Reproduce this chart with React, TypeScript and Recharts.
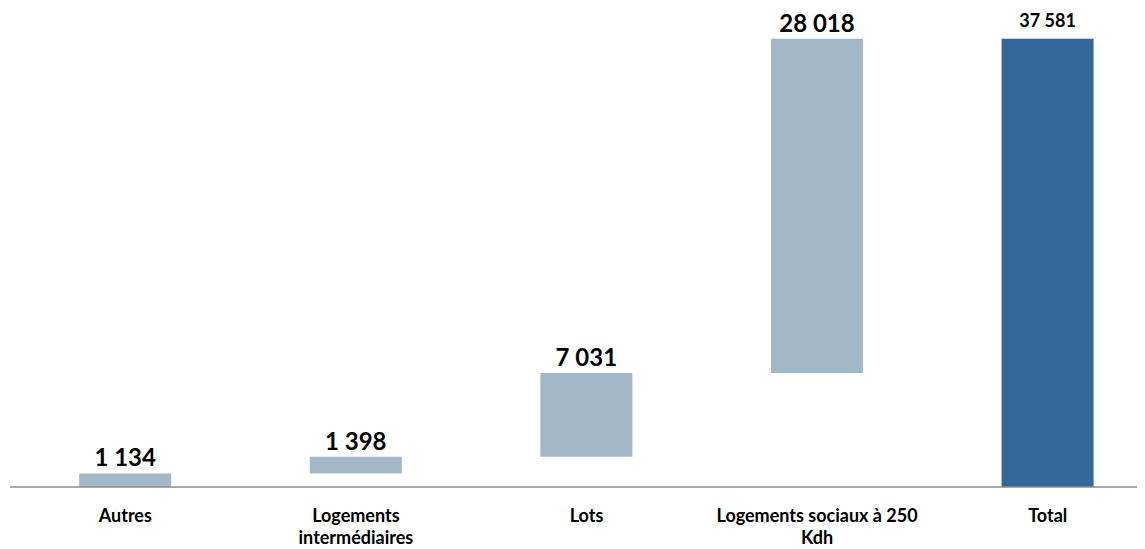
import React from "react";
import { BarChart, Bar, XAxis, YAxis, LabelList, Cell } from "recharts";

const categories = ["Autres", "Logements intermédiaires", "Lots", "Logements sociaux à 250 Kdh", "Total"];
const tickLines = [["Autres"], ["Logements", "intermédiaires"], ["Lots"], ["Logements sociaux à 250", "Kdh"], ["Total"]];
const values = [1134, 1398, 7031, 28018, 37581];
const isTotal = [false, false, false, false, true];

const LIGHT = "#A3B8C7";
const DARK = "#336699";
const FONT = "Lato, 'Open Sans', sans-serif";

const data = (() => {
  let running = 0;
  return categories.map((name, i) => {
    const base = isTotal[i] ? 0 : running;
    if (!isTotal[i]) running += values[i];
    return { name, base, value: values[i], total: isTotal[i] };
  });
})();

const fmt = (v: number) => String(v).replace(/\B(?=(\d{3})+(?!\d))/g, " ");

const CustomTick = (props: any) => {
  const { x, y, index } = props;
  const lines = tickLines[index] || [String(props.payload.value)];
  return (
    <text x={x} y={y} textAnchor="middle" fontFamily={FONT} fontWeight={700} fontSize={18} fill="#000">
      {lines.map((l: string, i: number) => (
        <tspan key={i} x={x} y={y + 27 + i * 22}>
          {l}
        </tspan>
      ))}
    </text>
  );
};

const ValueLabel = (props: any) => {
  const { x, y, width, index } = props;
  const d = data[index];
  const small = d.total;
  return (
    <text
      x={x + width / 2}
      y={y - (small ? 12 : 7)}
      textAnchor="middle"
      fontFamily={FONT}
      fontWeight={700}
      fontSize={small ? 18 : 24}
      fill="#000"
    >
      {fmt(d.value)}
    </text>
  );
};

export default function App() {
  return (
    <div style={{ width: 1137, height: 541, overflow: "hidden", background: "#fff" }}>
      <BarChart
        width={1160}
        height={541}
        data={data}
        margin={{ top: 2, right: 5, left: 2, bottom: 7 }}
        barCategoryGap="30%"
      >
        <XAxis
          dataKey="name"
          height={55}
          tickLine={false}
          axisLine={{ stroke: "#8C8C8C", strokeWidth: 1.5 }}
          tick={<CustomTick />}
          interval={0}
        />
        <YAxis hide domain={[0, 40000]} />
        <Bar dataKey="base" stackId="w" fill="transparent" isAnimationActive={false} />
        <Bar dataKey="value" stackId="w" isAnimationActive={false}>
          {data.map((d, i) => (
            <Cell key={i} fill={d.total ? DARK : LIGHT} />
          ))}
          <LabelList dataKey="value" content={<ValueLabel />} />
        </Bar>
      </BarChart>
    </div>
  );
}
